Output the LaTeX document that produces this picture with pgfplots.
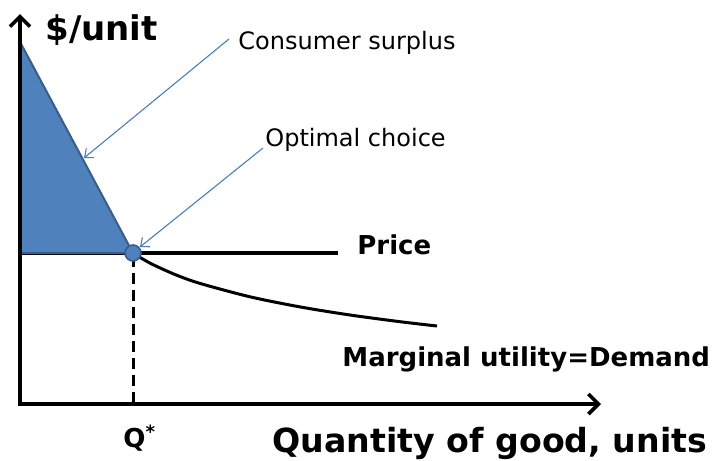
\documentclass[border=0pt]{standalone}
\usepackage{pgfplots}
\pgfplotsset{compat=1.18}
\usepackage{fontspec}
\setmainfont{DejaVu Sans}
\usetikzlibrary{arrows.meta}
\definecolor{fillb}{HTML}{4F81BD}
\definecolor{edgeb}{HTML}{385D8A}
\definecolor{annot}{HTML}{4A7EBB}
\begin{document}
\begin{tikzpicture}
\begin{axis}[scale only axis, width=357pt, height=230.5pt,
  xmin=0, xmax=714, ymin=0, ymax=461, y dir=reverse,
  hide axis, clip=false]
% price line
\addplot[black, line width=1.6pt] coordinates {(18,253) (338,253)};
% consumer surplus
\addplot[fill=fillb, draw=edgeb, line width=1pt] coordinates {(19,40) (133,253) (19,253)} -- cycle;
% demand curve
\addplot[black, line width=1.5pt, smooth, tension=0.5] coordinates {
(133,253) (150,263.1) (175,274.5) (200,283.4) (250,296.8) (300,306.9) (350,315) (400,321.7) (437,326)};
% dashed Q*
\addplot[black, line width=1.5pt, dash pattern=on 5.5pt off 3pt] coordinates {(133,256) (133,404)};
% axes
\addplot[black, line width=1.8pt, line join=miter,
  {Straight Barb[length=5pt,width=10pt,line width=1.8pt]}-{Straight Barb[length=5pt,width=10pt,line width=1.8pt]}]
  coordinates {(20,14) (20,404) (601,404)};
% annotation arrows
\addplot[annot, line width=0.55pt, -{Straight Barb[length=3.5pt,width=6pt]}] coordinates {(229,39) (84,158)};
\addplot[annot, line width=0.55pt, -{Straight Barb[length=3.5pt,width=6pt]}] coordinates {(263,148) (140,247)};
% optimal point
\addplot[only marks, mark=*, mark size=4pt, mark options={fill=fillb, draw=edgeb, line width=0.8pt}] coordinates {(133,253)};
% labels
\node[anchor=base west, inner sep=0pt, font=\bfseries\fontsize{17}{20}\selectfont] at (axis cs:45,40) {\$/unit};
\node[anchor=base west, inner sep=0pt, font=\fontsize{12}{14}\selectfont] at (axis cs:238,49) {Consumer surplus};
\node[anchor=base west, inner sep=0pt, font=\fontsize{12}{14}\selectfont] at (axis cs:265,146) {Optimal choice};
\node[anchor=base west, inner sep=0pt, font=\bfseries\fontsize{13}{15}\selectfont] at (axis cs:357,254) {Price};
\node[anchor=base west, inner sep=0pt, font=\bfseries\fontsize{13}{15}\selectfont] at (axis cs:342,366) {Marginal utility=Demand};
\node[anchor=base west, inner sep=0pt, font=\bfseries\fontsize{13}{15}\selectfont] at (axis cs:123,447) {Q\textsuperscript{*}};
\node[anchor=base west, inner sep=0pt, font=\bfseries\fontsize{16.6}{19}\selectfont] at (axis cs:272,452) {Quantity of good, units};
\end{axis}
\pgfresetboundingbox
\path (0,0) rectangle (357pt,230.5pt);
\end{tikzpicture}
\end{document}
